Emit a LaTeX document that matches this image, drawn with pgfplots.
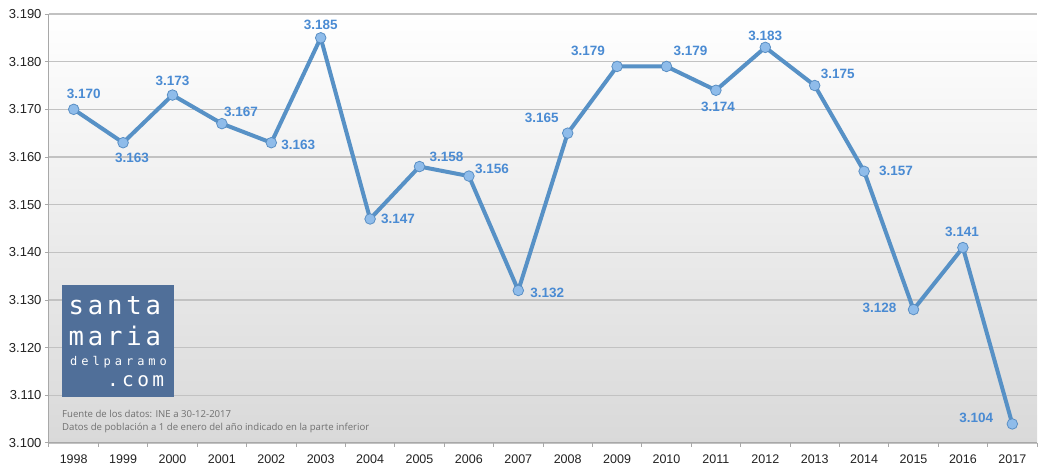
\documentclass[border=0pt]{standalone}
\usepackage{fontspec}
\setmainfont{Liberation Sans}
\newfontfamily\notefont{Open Sans}
\newfontfamily\logoA[LetterSpace=15]{DejaVu Sans Mono}
\newfontfamily\logoB[LetterSpace=33]{DejaVu Sans Mono}
\newfontfamily\logoC[LetterSpace=17]{DejaVu Sans Mono}
\usepackage{pgfplots}
\usepackage{pgfplotstable}
\pgfplotsset{compat=1.18}
\definecolor{linec}{HTML}{5791C6}
\definecolor{lblc}{HTML}{4A8BD3}
\definecolor{markf}{HTML}{8FBCEA}
\definecolor{markd}{HTML}{5A8FC4}
\definecolor{gridc}{HTML}{C2C2C2}
\definecolor{axc}{HTML}{A8A8A8}
\definecolor{bgb}{HTML}{D9D9D9}
\definecolor{logoc}{HTML}{506F99}
\definecolor{notec}{HTML}{707070}
\definecolor{tickc}{HTML}{222222}

\pgfplotstableread{
x y dx dy
0 3.170 10 15
1 3.163 9 -15
2 3.173 0 14
3 3.167 19 12
4 3.163 27 -2
5 3.185 0 13
6 3.147 28 0
7 3.158 27 10
8 3.156 23 7
9 3.132 29 -2
10 3.165 -26 15
11 3.179 -29 16
12 3.179 24 16
13 3.174 2 -17
14 3.183 0 12
15 3.175 23 12
16 3.157 32 0
17 3.128 -34 2
18 3.141 -1 16
19 3.104 -36 6
}\datatable

\begin{document}
\begin{tikzpicture}
\useasboundingbox (-49pt,-30pt) rectangle (996pt,443pt);
\begin{axis}[
  at={(0pt,0pt)}, anchor=south west,
  scale only axis, width=988pt, height=429pt,
  xmin=-0.5, xmax=19.5, ymin=3.100, ymax=3.190,
  xtick={0,...,19},
  xticklabels={1998,1999,2000,2001,2002,2003,2004,2005,2006,2007,2008,2009,2010,2011,2012,2013,2014,2015,2016,2017},
  major x tick style={draw=none},
  minor xtick={-0.5,0.5,...,19.5},
  ytick={3.100,3.110,3.120,3.130,3.140,3.150,3.160,3.170,3.180,3.190},
  ymajorgrids, major grid style={gridc, line width=1.6pt},
  axis x line*=bottom, axis y line*=left,
  axis line style={-, draw=axc, line width=1pt},
  tick align=outside,
  tick style={axc, line width=1pt},
  minor tick length=4pt, major tick length=4pt,
  /pgf/number format/assume math mode=true,
  yticklabel style={font=\fontsize{13}{13}\selectfont, text=tickc, /pgf/number format/.cd, fixed, fixed zerofill, precision=3},
  xticklabel style={font=\fontsize{12.5}{12.5}\selectfont, text=tickc, yshift=-4pt},
  axis background/.style={top color=white, bottom color=bgb},
  clip=false,
]
\addplot[linec, line width=4pt, mark=*, mark size=5.3pt,
  mark options={fill=markf, draw=markd, line width=0.8pt},
  nodes near coords={\pgfmathprintnumber[fixed,fixed zerofill,precision=3]{\pgfplotspointmeta}},
  visualization depends on={\thisrow{dx}\as\dx},
  visualization depends on={\thisrow{dy}\as\dy},
  every node near coord/.append style={anchor=center, xshift=\dx pt, yshift=\dy pt,
    font=\fontsize{13.5}{13.5}\selectfont\bfseries, text=lblc, inner sep=0pt},
] table[x=x,y=y]{\datatable};
\end{axis}
\fill[logoc] (13pt,46pt) rectangle (125pt,158pt);
\node[anchor=base west, inner sep=0pt, text=white, font=\logoA\fontsize{25.6}{25.6}\selectfont] at (19.5pt,128pt) {santa};
\node[anchor=base west, inner sep=0pt, text=white, font=\logoA\fontsize{25.6}{25.6}\selectfont] at (19.5pt,97.3pt) {maria};
\node[anchor=base west, inner sep=0pt, text=white, font=\logoB\fontsize{12}{12}\selectfont] at (21pt,77pt) {delparamo};
\node[anchor=base west, inner sep=0pt, text=white, font=\logoC\fontsize{19.5}{19.5}\selectfont] at (58pt,56.3pt) {.com};
\node[anchor=base west, inner sep=0pt, text=notec, font=\notefont\fontsize{9.6}{9.6}\selectfont] at (13pt,25pt) {Fuente de los datos: INE a 30-12-2017};
\node[anchor=base west, inner sep=0pt, text=notec, font=\notefont\fontsize{9.6}{9.6}\selectfont] at (13pt,12pt) {Datos de población a 1 de enero del año indicado en la parte inferior};
\end{tikzpicture}
\end{document}
